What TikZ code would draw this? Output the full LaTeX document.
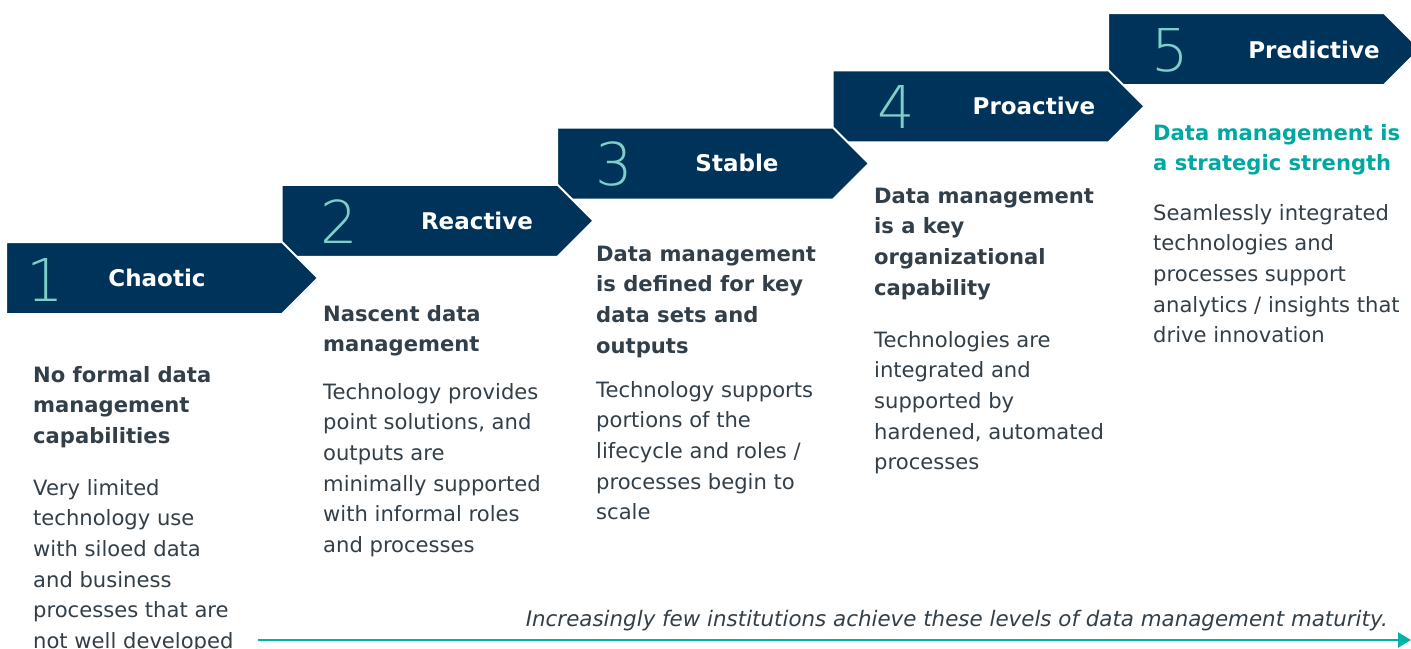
\documentclass[tikz,border=0pt]{standalone}
\usepackage{fontspec}
\setmainfont{DejaVu Sans}
\newfontfamily\numfont{DejaVu Sans ExtraLight}
\usetikzlibrary{arrows.meta}
\definecolor{navy}{RGB}{0,51,89}
\definecolor{numteal}{RGB}{126,206,202}
\definecolor{headteal}{RGB}{0,168,162}
\definecolor{lineteal}{RGB}{0,178,169}
\definecolor{txt}{RGB}{51,63,72}
\tikzset{
  stagebox/.style={fill=navy, draw=white, line width=2pt, line join=miter},
  num/.style={font=\numfont\fontsize{59}{59}\selectfont, text=numteal, inner sep=0pt},
  ttl/.style={font=\bfseries\fontsize{23}{28}\selectfont, text=white, inner sep=0pt},
  head/.style={font=\bfseries\fontsize{21.1}{30.7}\selectfont, text=txt, align=left, anchor=base west, inner sep=0pt},
  body/.style={font=\fontsize{21.1}{30.7}\selectfont, text=txt, align=left, anchor=base west, inner sep=0pt},
}
\begin{document}
\begin{tikzpicture}[x=1pt,y=-1pt]
\useasboundingbox (0,0) rectangle (1411,648);
\begin{scope}
\clip (0,0) rectangle (1411,648);
\foreach \L/\T in {1108/13, 832.5/70.25, 557/127.5, 281.5/184.75, 6/242}{
  \path[stagebox] (\L,\T) -- ++(276,0) -- ++(36,36) -- ++(-36,36) -- ++(-276,0) -- cycle;
}
\end{scope}
% numbers and titles
\node[num] (n1) at (45,280) {1};
\node[ttl] (t1) at (157,278) {Chaotic};
\node[num] (n2) at (339,222) {2};
\node[ttl] (t2) at (477,221) {Reactive};
\node[num] (n3) at (614,164) {3};
\node[ttl] (t3) at (737,163) {Stable};
\node[num] (n4) at (896,107) {4};
\node[ttl] (t4) at (1034,106) {Proactive};
\node[num] (n5) at (1170,50) {5};
\node[ttl] (t5) at (1314,50) {Predictive};
% column texts (base anchor = baseline of the last line)
\node[head] (h1) at (33,443.4) {No formal data\\management\\capabilities};
\node[body] (b1) at (33,648.5) {Very limited\\technology use\\with siloed data\\and business\\processes that are\\not well developed};
\node[head] (h2) at (323,351.7) {Nascent data\\management};
\node[body] (b2) at (323,552.5) {Technology provides\\point solutions, and\\outputs are\\minimally supported\\with informal roles\\and processes};
\node[head] (h3) at (596,353.1) {Data management\\is defined for key\\data sets and\\outputs};
\node[body] (b3) at (596,519.8) {Technology supports\\portions of the\\lifecycle and roles /\\processes begin to\\scale};
\node[head] (h4) at (874,295.1) {Data management\\is a key\\organizational\\capability};
\node[body] (b4) at (874,469.8) {Technologies are\\integrated and\\supported by\\hardened, automated\\processes};
\node[head, text=headteal] (h5) at (1153,170.7) {Data management is\\a strategic strength};
\node[body] (b5) at (1153,342.8) {Seamlessly integrated\\technologies and\\processes support\\analytics / insights that\\drive innovation};
% bottom arrow
\node[font=\itshape\fontsize{21.4}{24}\selectfont, text=txt, anchor=base east, inner sep=0pt] (note) at (1388,626) {Increasingly few institutions achieve these levels of data management maturity.};
\coordinate (a0) at (258,640);
\coordinate (a1) at (1411,640);
\draw[lineteal, line width=2.5pt, -{Triangle[length=13pt,width=15pt]}] (a0) -- (a1);
\end{tikzpicture}
\end{document}
